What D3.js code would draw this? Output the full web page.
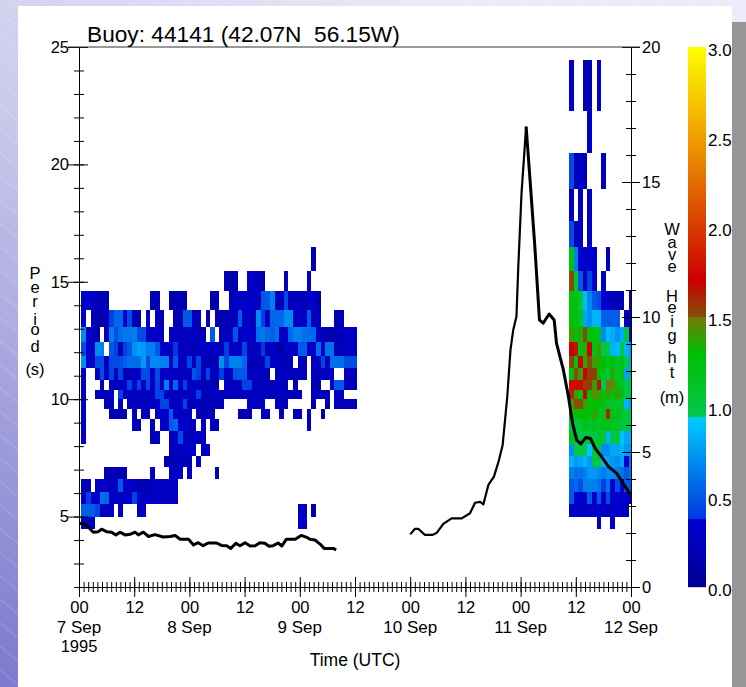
<!DOCTYPE html>
<html>
<head>
<meta charset="utf-8">
<script src="https://cdn.jsdelivr.net/npm/d3@7"></script>
<style>
    html, body { margin: 0; padding: 0; background: #fff; }
    svg { display: block; }
    text { font-family: "Liberation Sans", Arial, sans-serif; fill: #000; white-space: pre; }
</style>
</head>
<body>
<svg id="chart" width="746" height="687"></svg>
<script>
// period bin edges in seconds, longest first (26 bins)
var periodEdges = [24.45, 22.26, 20.48, 18.94, 17.60, 16.48, 15.46, 14.60, 13.78, 13.07, 12.45, 11.85, 11.33,
    10.83, 10.39, 9.99, 9.58, 9.17, 8.63, 8.09, 7.60, 7.09, 6.59, 6.06, 5.52, 4.99, 4.45];

// first hour of each block of spectrum columns
var firstBlockStart = 0.5;
var secondBlockStart = 106.5;

// spectral energy, hundredths of the colour bar value, 0 = no data. one row per period bin.
var firstBlock = [
    [],
    [],
    [],
    [],
    [],
    [0,0,0,0,0,0,0,0,0,0, 0,0,0,0,0,0,0,0,0,0, 0,0,0,0,0,0,0,0,0,0, 0,0,0,0,0,0,0,0,0,0, 0,0,0,0,0,0,0,0,0,0, 22,0,0,0,0,0,0,0,0,0],
    [0,0,0,0,0,0,0,0,0,0, 0,0,0,0,0,0,0,0,0,0, 0,0,0,0,0,0,0,0,0,0, 0,15,15,18,0,0,30,30,25,18, 0,0,0,0,25,0,0,0,0,28, 0,0,0,0,0,0,0,0,0,0],
    [33,30,30,20,25,20,0,0,0,0, 0,0,0,0,0,22,22,0,0,15, 15,15,15,0,0,0,0,0,15,15, 0,0,25,28,30,30,30,30,30,48, 50,65,20,20,45,22,28,28,20,33, 30,15,0,0,0,0,0,0,0,0],
    [33,0,20,15,15,20,40,55,55,30, 45,20,15,0,25,0,25,20,0,0, 18,18,50,50,25,25,0,20,0,20, 15,20,18,28,50,25,30,25,70,40, 25,55,55,55,70,70,28,28,30,50, 25,25,0,0,0,20,20,0,0,0],
    [68,25,25,15,0,25,65,45,58,62, 62,65,45,45,28,28,28,28,0,25, 25,25,25,25,25,25,20,0,50,0, 25,25,28,48,28,33,33,25,60,62, 55,52,60,25,28,55,65,65,60,58, 55,28,25,15,15,15,25,25,28,28],
    [45,33,25,70,65,0,50,40,25,40, 50,72,78,75,65,65,50,30,28,28, 38,28,25,25,20,28,28,28,25,25, 25,40,28,30,25,42,25,25,28,38, 15,35,15,15,28,30,28,50,50,28, 30,58,25,60,60,25,25,25,28,28],
    [70,33,28,45,45,28,45,45,45,52, 58,58,58,75,45,68,68,65,65,30, 50,28,25,42,25,42,15,20,20,20, 72,42,65,65,65,55,20,20,20,25, 42,28,28,25,20,25,0,20,20,0, 28,28,42,28,58,58,58,45,45,45],
    [30,0,0,25,45,28,42,28,42,20, 25,28,28,45,45,28,45,28,28,25, 28,28,28,28,48,40,28,42,25,25, 40,28,20,48,50,50,28,25,25,25, 25,0,25,25,25,25,25,25,25,0, 25,25,25,25,25,0,0,25,25,25],
    [30,0,0,0,25,0,28,28,28,30, 42,30,42,25,45,25,42,25,65,25, 55,25,40,25,28,33,20,20,25,15, 0,25,25,28,28,42,42,28,25,25, 25,25,28,28,20,0,20,0,0,0, 15,15,0,0,33,50,50,20,20,20],
    [30,0,0,25,25,25,25,0,42,25, 25,28,28,25,25,28,42,42,25,25, 25,25,28,25,25,40,20,25,25,25, 25,25,25,25,25,28,28,25,25,25, 25,25,25,25,25,25,25,25,0,0, 20,20,20,25,0,25,25,0,0,0],
    [30,0,0,0,0,20,20,0,28,0, 25,25,25,25,25,25,33,42,42,25, 25,25,42,25,25,20,20,20,20,20, 25,0,0,0,0,0,25,25,25,25, 0,0,25,25,20,0,0,0,0,0, 20,0,0,15,0,25,25,25,25,25],
    [30,0,0,0,0,0,20,20,15,20, 0,20,0,25,25,0,28,33,33,50, 33,28,28,25,0,25,20,25,25,0, 0,0,0,0,20,20,20,0,0,25, 25,0,0,25,0,0,25,25,0,28, 0,0,18,0,0,0,0,0,0,0],
    [33,0,0,0,0,0,0,0,0,0, 0,25,25,0,0,20,0,30,30,50, 55,33,30,30,25,0,25,0,25,25, 0,0,0,0,0,0,0,0,0,0, 0,0,0,0,0,0,0,0,0,28, 0,0,0,0,0,0,0,0,0,0],
    [33,0,0,0,0,0,0,0,0,0, 0,0,0,0,0,20,20,0,0,30, 30,45,20,25,25,25,25,0,0,0, 0,0,0,0,0,0,0,0,0,0, 0,0,0,0,0,0,0,0,0,0, 0,0,0,0,0,0,0,0,0,0],
    [0,0,0,0,0,0,0,0,0,0, 0,0,0,0,0,0,0,0,0,28, 28,28,33,33,33,0,30,30,0,0, 0,0,0,0,0,0,0,0,0,0, 0,0,0,0,0,0,0,0,0,0, 0,0,0,0,0,0,0,0,0,0],
    [0,0,0,0,0,0,0,0,0,0, 0,0,0,0,0,0,0,0,20,20, 20,20,20,20,0,30,0,0,0,0, 0,0,0,0,0,0,0,0,0,0, 0,0,0,0,0,0,0,0,0,0, 0,0,0,0,0,0,0,0,0,0],
    [0,0,0,0,0,18,18,20,20,20, 0,0,0,0,0,25,0,0,0,33, 33,33,0,28,0,0,0,0,0,30, 0,0,0,0,0,0,0,0,0,0, 0,0,0,0,0,0,0,0,0,0, 0,0,0,0,0,0,0,0,0,0],
    [20,20,0,25,28,28,28,28,50,30, 30,28,18,18,20,25,25,28,30,30, 30,0,0,0,0,0,0,0,0,0, 0,0,0,0,0,0,0,0,0,0, 0,0,0,0,0,0,0,0,0,0, 0,0,0,0,0,0,0,0,0,0],
    [35,40,30,33,58,55,28,28,28,30, 33,42,30,30,28,28,28,25,25,25, 25,0,0,0,0,0,0,0,0,0, 0,0,0,0,0,0,0,0,0,0, 0,0,0,0,0,0,0,0,0,0, 0,0,0,0,0,0,0,0,0,0],
    [52,52,52,42,25,25,25,0,25,0, 0,0,28,28,0,0,0,0,0,0, 0,0,0,0,0,0,0,0,0,0, 0,0,0,0,0,0,0,0,0,0, 0,0,0,0,0,0,0,28,28,0, 18,0,0,0,0,0,0,0,0,0],
    [28,28,28,0,0,0,0,0,0,0, 0,0,0,0,0,0,0,0,0,0, 0,0,0,0,0,0,0,0,0,0, 0,0,0,0,0,0,0,0,0,0, 0,0,0,0,0,0,0,33,33,0, 0,0,0,0,0,0,0,0,0,0]
];

var secondBlock = [
    [30,0,0,20,20,0,30,0,0,0,0,0,0,0],
    [0,0,0,0,33,0,0,0,0,0,0,0,0,0],
    [45,20,33,20,0,0,0,28,0,0,0,0,0,0],
    [28,0,28,0,28,0,0,0,0,0,0,0,0,0],
    [45,25,25,0,28,0,0,0,0,0,0,0,0,0],
    [120,65,33,33,33,33,0,0,25,0,0,0,0,0],
    [152,110,50,25,42,33,0,28,0,0,0,0,0,0],
    [125,125,105,88,68,50,45,33,33,20,20,15,0,30],
    [125,125,115,80,72,85,85,52,52,52,52,0,25,30],
    [140,130,135,150,130,120,120,68,88,82,72,82,100,30],
    [170,165,125,138,170,120,140,100,100,85,88,100,85,75],
    [152,125,170,140,150,140,135,130,115,130,110,125,95,78],
    [125,150,140,170,155,155,130,120,100,135,110,125,78,100],
    [175,175,175,155,155,140,165,95,148,148,125,110,100,100],
    [160,140,125,170,130,145,140,130,140,125,140,120,100,100],
    [140,150,150,140,130,130,125,125,115,110,110,110,85,78],
    [130,132,132,128,125,138,120,120,160,120,120,110,105,100],
    [100,100,105,125,110,120,110,120,120,115,110,100,100,100],
    [120,100,100,98,105,100,110,105,85,100,100,90,80,80],
    [70,100,100,95,90,105,100,70,70,80,80,85,75,75],
    [85,75,80,85,75,100,100,85,80,75,70,80,35,60],
    [65,60,60,65,75,75,70,65,70,70,65,60,50,60],
    [50,55,45,65,65,65,60,40,60,35,45,35,50,50],
    [50,33,33,33,50,33,50,33,45,33,35,35,33,33],
    [30,30,30,30,30,30,30,30,20,30,30,28,28,0],
    [0,0,0,0,0,0,33,0,0,33,0,0,0,0]
];

// significant wave height, metres
var waveHoursA = [0.1, 1.3, 2.0, 3.1, 4.2, 4.9, 6.0, 7.1, 8.0, 8.9, 10, 11.1, 12.2, 12.9, 14, 15.1, 16.5, 18.3, 19.8, 20.9, 22, 23.8,
    24.9, 25.9, 27, 28.1, 29.9, 31, 32.1, 33, 34.1, 35, 36.1, 37.2, 38.3, 39.3, 40.4, 41.3, 42.2, 43.3, 44.1, 45.1, 47, 48.3, 49.5, 50.2, 51.3, 52.4, 53.3, 55.3, 55.9];
var waveHeightA = [2.36, 2.32, 2.22, 2.03, 2.05, 2.14, 2.05, 2.03, 1.93, 2.03, 1.93, 1.95, 2.03, 1.93, 2.03, 1.87, 1.94, 1.85, 1.87, 1.91, 1.77, 1.77,
    1.56, 1.64, 1.53, 1.63, 1.63, 1.54, 1.53, 1.43, 1.62, 1.53, 1.64, 1.52, 1.53, 1.64, 1.62, 1.51, 1.53, 1.63, 1.52, 1.77, 1.77, 1.91, 1.84, 1.77, 1.74, 1.59, 1.43, 1.43, 1.37];
var waveHoursB = [72, 73, 73.8, 75.2, 76.9, 77.8, 79.2, 81, 83.2, 85, 86.1, 87.2, 87.9, 89, 90.2, 91.2, 92.1, 93.1, 93.8, 94.4, 95.1, 95.5, 96.2, 97.2, 98,
    99.1, 100.1, 100.9, 102.2, 103.3, 103.8, 105.3, 106.4, 107.3, 108.2, 109.1, 110.2, 111.2, 112.2, 113.6, 115.1, 116.9, 119.8];
var waveHeightB = [1.95, 2.15, 2.15, 1.93, 1.93, 2.01, 2.34, 2.54, 2.54, 2.73, 3.12, 3.15, 3.06, 3.78, 4.09, 4.64, 5.26, 7.05, 8.78, 9.52, 10.02, 11.87, 14.58, 17.05, 15.2,
    12.6, 9.89, 9.77, 10.11, 9.89, 9.03, 8.04, 7.05, 6.06, 5.44, 5.30, 5.54, 5.50, 5.14, 4.83, 4.46, 4.21, 3.44];

// axis labels
var timeTicks = [0, 12, 24, 36, 48, 60, 72, 84, 96, 108, 120];
var timeLabels = ["00", "12", "00", "12", "00", "12", "00", "12", "00", "12", "00"];
var dayTicks = [0, 24, 48, 72, 96, 120];
var dayLabels = ["7 Sep", "8 Sep", "9 Sep", "10 Sep", "11 Sep", "12 Sep"];
var colorbarTicks = [0, 0.5, 1, 1.5, 2, 2.5, 3];

var colorStops = [0, 0.375, 0.375, 0.94, 0.94, 1.3, 1.5, 1.5, 1.7, 2.5, 3];
var colorValues = ["#000096", "#0000d2", "#0038e0", "#00ccff", "#00c850", "#00c000", "#78780a", "#82500a", "#cd0000", "#f0a000", "#ffff00"];

var svg = d3.select("#chart"),
    margin = { top: 47, left: 79, right: 631, bottom: 587 };

// page background
var defs = svg.append("defs");
var grad = defs.append("linearGradient").attr("id", "bg")
    .attr("x1", 0).attr("y1", 1).attr("x2", 0.62).attr("y2", 0);
grad.append("stop").attr("offset", "0%").attr("stop-color", "#7d78cd");
grad.append("stop").attr("offset", "60%").attr("stop-color", "#c8c8eb");
grad.append("stop").attr("offset", "100%").attr("stop-color", "#ebebfa");
var hatch = defs.append("pattern").attr("id", "hatch").attr("patternUnits", "userSpaceOnUse")
    .attr("width", 18).attr("height", 18).attr("patternTransform", "rotate(40)");
hatch.append("line").attr("x1", 0).attr("x2", 18).attr("y1", 9).attr("y2", 9)
    .attr("stroke", "#fff").attr("stroke-opacity", 0.2);
svg.append("rect").attr("width", 746).attr("height", 687).attr("fill", "url(#bg)");
svg.append("rect").attr("width", 746).attr("height", 687).attr("fill", "url(#hatch)");
svg.append("rect").attr("x", 732).attr("y", 22).attr("width", 14).attr("height", 665).attr("fill", "#969696");
svg.append("rect").attr("x", 18).attr("y", 6).attr("width", 714).attr("height", 681).attr("fill", "#fff");

// scales
var x = d3.scaleLinear().domain([0, 120]).range([margin.left, margin.right]);
var yPeriod = d3.scaleLinear().domain([2, 25]).range([margin.bottom, margin.top]);
var yWave = d3.scaleLinear().domain([0, 20]).range([margin.bottom, margin.top]);
var yBar = d3.scaleLinear().domain([0, 3]).range([margin.bottom, margin.top]);
var color = d3.scaleLinear().domain(colorStops).range(colorValues);

defs.append("clipPath").attr("id", "plot").append("rect")
    .attr("x", margin.left).attr("y", margin.top)
    .attr("width", margin.right - margin.left).attr("height", margin.bottom - margin.top);

// spectrum cells
function drawBlock(rows, start) {
    rows.forEach(function (row, r) {
        row.forEach(function (v, c) {
            if (!v) return;
            svg.append("rect")
                .attr("clip-path", "url(#plot)")
                .attr("shape-rendering", "crispEdges")
                .attr("x", x(start + c))
                .attr("y", yPeriod(periodEdges[r]))
                .attr("width", x(start + c + 1) - x(start + c))
                .attr("height", yPeriod(periodEdges[r + 1]) - yPeriod(periodEdges[r]))
                .attr("fill", color(v / 100));
        });
    });
}
drawBlock(firstBlock, firstBlockStart);
drawBlock(secondBlock, secondBlockStart);

// wave height line, gap between the two records. the rise is drawn thinner, as in the original
var line = d3.line()
    .x(function (d) { return x(d[0]); })
    .y(function (d) { return yWave(d[1]); });
function drawWave(hours, heights, width) {
    svg.append("path")
        .datum(d3.zip(hours, heights))
        .attr("fill", "none")
        .attr("stroke", "#000")
        .attr("stroke-width", width)
        .attr("stroke-linejoin", "round")
        .attr("d", line);
}
drawWave(waveHoursA, waveHeightA, 3);
drawWave(waveHoursB.slice(0, 24), waveHeightB.slice(0, 24), 2.2);
drawWave(waveHoursB.slice(23), waveHeightB.slice(23), 3);

// axes. ticks cross the axis line so they are redrawn after the call
function crossTicks(g, a, b) {
    g.selectAll(".tick line").attr("x1", a).attr("x2", b).attr("stroke", "#000");
    g.select(".domain").attr("stroke", "#000");
    g.selectAll("text").attr("font-size", 16.5).attr("font-family", "Liberation Sans");
}

var leftMinor = svg.append("g").attr("transform", "translate(" + margin.left + ",0)")
    .call(d3.axisLeft(yPeriod).tickValues(d3.range(2, 25)).tickSizeOuter(0).tickFormat(""));
crossTicks(leftMinor, -5, 5);
var leftMajor = svg.append("g").attr("transform", "translate(" + margin.left + ",0)")
    .call(d3.axisLeft(yPeriod).tickValues([5, 10, 15, 20, 25]).tickSizeOuter(0).tickPadding(4));
crossTicks(leftMajor, -11, 9);

var rightMinor = svg.append("g").attr("transform", "translate(" + margin.right + ",0)")
    .call(d3.axisRight(yWave).tickValues(d3.range(0, 21)).tickSizeOuter(0).tickFormat(""));
crossTicks(rightMinor, -5, 5);
var rightMajor = svg.append("g").attr("transform", "translate(" + margin.right + ",0)")
    .call(d3.axisRight(yWave).tickValues([0, 5, 10, 15, 20]).tickSizeOuter(0).tickPadding(5));
crossTicks(rightMajor, -9, 9);

svg.append("line").attr("x1", margin.left - 11).attr("x2", margin.right + 9)
    .attr("y1", margin.top).attr("y2", margin.top).attr("stroke", "#333");

var bottomMinor = svg.append("g").attr("transform", "translate(0," + margin.bottom + ")")
    .call(d3.axisBottom(x).tickValues(d3.range(0, 121)).tickSizeOuter(0).tickFormat(""));
bottomMinor.selectAll(".tick line").attr("y1", -5).attr("y2", 5).attr("stroke", "#000");
bottomMinor.select(".domain").attr("stroke", "#000");
var bottomMajor = svg.append("g").attr("transform", "translate(0," + margin.bottom + ")")
    .call(d3.axisBottom(x).tickValues(timeTicks).tickSizeOuter(0)
        .tickFormat(function (d, i) { return timeLabels[i]; }).tickPadding(8));
bottomMajor.selectAll(".tick line").attr("y1", -10).attr("y2", 10).attr("stroke", "#000");
bottomMajor.selectAll("text").attr("font-size", 16.5).attr("font-family", "Liberation Sans");

svg.selectAll(".day").data(dayTicks).enter().append("text")
    .attr("class", "day")
    .attr("x", function (d) { return x(d); })
    .attr("y", 633)
    .attr("text-anchor", "middle")
    .attr("font-size", 17)
    .text(function (d, i) { return dayLabels[i]; });
svg.append("text").attr("x", x(0)).attr("y", 652).attr("text-anchor", "middle").attr("font-size", 16.5).text("1995");
svg.append("text").attr("x", 355).attr("y", 666).attr("text-anchor", "middle").attr("font-size", 17.5).text("Time (UTC)");

svg.append("text").attr("x", 87).attr("y", 42).attr("font-size", 22.7).text("Buoy: 44141 (42.07N  56.15W)");

// stacked axis titles, one text each
function stacked(letters, cx) {
    var t = svg.append("text").attr("text-anchor", "middle").attr("font-size", 16.5);
    letters.forEach(function (d) {
        t.append("tspan").attr("x", cx).attr("y", d[1]).text(d[0]);
    });
}
stacked([["P", 279], ["e", 293], ["r", 307], ["i", 325], ["o", 335], ["d", 352], ["(s)", 375]], 35);
stacked([["W", 235], ["a", 248], ["v", 260], ["e", 272], ["H", 302], ["e", 313], ["i", 327], ["g", 341], ["h", 363], ["t", 378], ["(m)", 403]], 672);

// colour bar
var barValues = d3.range(0, 3, 1 / 180);
svg.selectAll(".bar").data(barValues).enter().append("rect")
    .attr("class", "bar")
    .attr("x", 688)
    .attr("width", 18)
    .attr("y", function (d) { return yBar(d) - 1; })
    .attr("height", 1.2)
    .attr("fill", function (d) { return color(d); });
svg.selectAll(".barlabel").data(colorbarTicks).enter().append("text")
    .attr("class", "barlabel")
    .attr("x", 708)
    .attr("y", function (d) { return yBar(d) + 9; })
    .attr("font-size", 17)
    .text(function (d) { return d.toFixed(1); });
</script>
</body>
</html>
